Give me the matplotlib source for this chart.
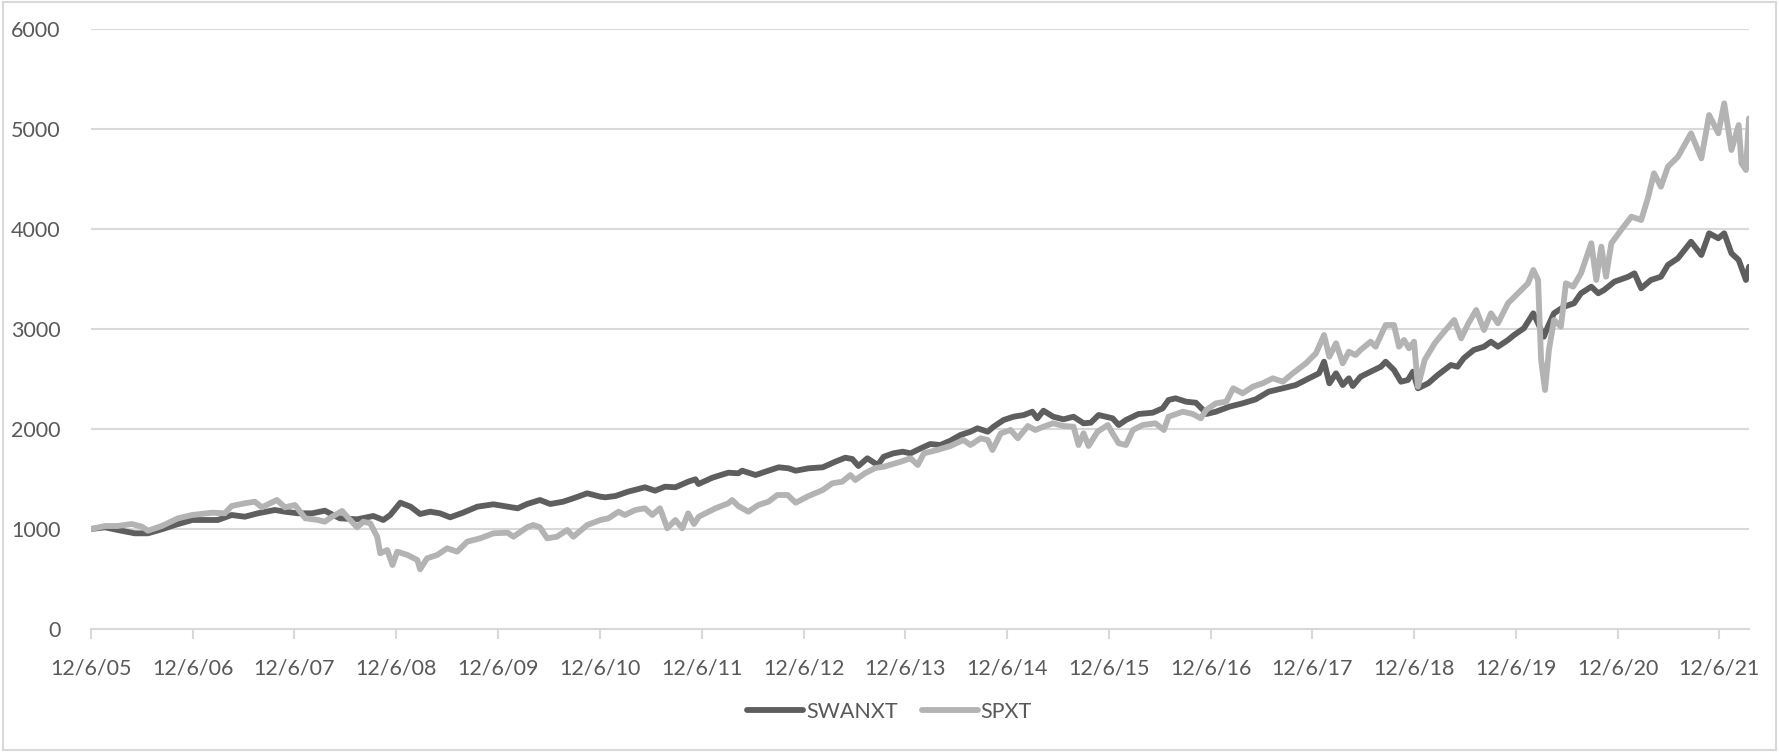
import matplotlib
matplotlib.use("Agg")
import matplotlib.pyplot as plt
import matplotlib.dates as mdates
from matplotlib.ticker import FuncFormatter, MultipleLocator
import pandas as pd

# values (growth of 1000)
swanxt_dates = [
    "2005-12-06", "2006-01-26", "2006-03-12", "2006-05-12", "2006-06-28", "2006-08-17",
    "2006-10-03", "2006-12-04", "2007-01-20", "2007-03-06", "2007-04-25", "2007-06-11",
    "2007-07-28", "2007-09-27", "2007-11-02", "2007-12-19", "2008-02-08", "2008-03-24",
    "2008-05-17", "2008-07-18", "2008-09-14", "2008-10-20", "2008-11-14", "2008-12-20",
    "2009-01-26", "2009-03-01", "2009-04-06", "2009-05-11", "2009-06-17", "2009-08-02",
    "2009-09-22", "2009-11-19", "2010-01-09", "2010-02-14", "2010-03-20", "2010-05-05",
    "2010-06-11", "2010-07-27", "2010-09-02", "2010-10-22", "2010-12-08", "2010-12-26",
    "2011-01-31", "2011-03-17", "2011-05-17", "2011-06-22", "2011-07-28", "2011-09-03",
    "2011-10-19", "2011-11-14", "2011-11-25", "2012-01-14", "2012-03-11", "2012-04-16",
    "2012-04-30", "2012-06-17", "2012-07-22", "2012-09-08", "2012-10-13", "2012-11-08",
    "2012-12-24", "2013-02-13", "2013-03-30", "2013-05-05", "2013-05-30", "2013-06-21",
    "2013-07-23", "2013-08-29", "2013-09-20", "2013-10-25", "2013-11-27", "2013-12-25",
    "2014-01-31", "2014-03-06", "2014-04-11", "2014-05-17", "2014-06-22", "2014-07-28",
    "2014-08-22", "2014-09-28", "2014-10-19", "2014-11-24", "2014-12-30", "2015-02-05",
    "2015-03-07", "2015-03-25", "2015-04-16", "2015-05-21", "2015-06-27", "2015-08-02",
    "2015-09-07", "2015-10-03", "2015-10-31", "2015-11-26", "2015-12-20", "2016-01-11",
    "2016-02-06", "2016-03-22", "2016-05-12", "2016-06-17", "2016-07-08", "2016-08-02",
    "2016-09-09", "2016-10-14", "2016-11-09", "2016-11-20", "2016-12-25", "2017-02-11",
    "2017-03-31", "2017-05-17", "2017-07-02", "2017-08-22", "2017-10-08", "2017-11-24",
    "2017-12-30", "2018-01-17", "2018-02-05", "2018-03-01", "2018-03-25", "2018-04-16",
    "2018-04-30", "2018-05-28", "2018-07-03", "2018-08-09", "2018-08-26", "2018-09-25",
    "2018-10-20", "2018-11-14", "2018-12-02", "2018-12-20", "2019-01-26", "2019-03-01",
    "2019-04-17", "2019-05-11", "2019-06-02", "2019-07-08", "2019-08-14", "2019-09-08",
    "2019-10-03", "2019-11-08", "2019-11-30", "2020-01-04", "2020-02-07", "2020-02-24",
    "2020-03-16", "2020-03-30", "2020-04-21", "2020-05-27", "2020-07-02", "2020-07-27",
    "2020-09-02", "2020-09-27", "2020-10-18", "2020-11-24", "2021-01-13", "2021-02-04",
    "2021-02-28", "2021-04-04", "2021-05-10", "2021-06-04", "2021-07-10", "2021-08-26",
    "2021-10-02", "2021-10-30", "2021-12-02", "2021-12-23", "2022-01-18", "2022-02-13",
    "2022-03-11", "2022-03-22",
]
swanxt_values = [
    1000, 1017, 990, 957, 957, 997,
    1040, 1090, 1090, 1090, 1140, 1123,
    1157, 1190, 1173, 1157, 1157, 1183,
    1107, 1097, 1130, 1090, 1140, 1263,
    1223, 1150, 1173, 1157, 1117, 1163,
    1223, 1247, 1223, 1207, 1250, 1290,
    1250, 1273, 1307, 1357, 1323, 1317,
    1330, 1373, 1417, 1383, 1423, 1417,
    1473, 1497, 1450, 1513, 1563, 1557,
    1583, 1540, 1573, 1617, 1607, 1583,
    1607, 1617, 1673, 1713, 1700, 1630,
    1707, 1640, 1723, 1757, 1773, 1757,
    1807, 1850, 1840, 1883, 1940, 1973,
    2007, 1973, 2023, 2090, 2123, 2140,
    2173, 2107, 2183, 2123, 2097, 2123,
    2057, 2063, 2140, 2123, 2107, 2040,
    2090, 2150, 2163, 2207, 2290, 2307,
    2273, 2263, 2190, 2150, 2173, 2223,
    2257, 2297, 2373, 2407, 2440, 2507,
    2557, 2673, 2457, 2557, 2440, 2507,
    2430, 2523, 2573, 2623, 2673, 2590,
    2473, 2490, 2573, 2407, 2457, 2540,
    2640, 2623, 2707, 2790, 2823, 2873,
    2823, 2890, 2940, 3007, 3157, 3057,
    2923, 3023, 3157, 3223, 3257, 3357,
    3423, 3357, 3390, 3473, 3523, 3557,
    3407, 3490, 3523, 3640, 3707, 3873,
    3740, 3957, 3907, 3957, 3757, 3690,
    3490, 3623,
]

spxt_dates = [
    "2005-12-06", "2006-01-26", "2006-03-12", "2006-05-01", "2006-06-07", "2006-06-28",
    "2006-08-17", "2006-10-14", "2006-12-04", "2007-02-14", "2007-03-31", "2007-04-25",
    "2007-06-11", "2007-07-17", "2007-08-11", "2007-10-04", "2007-11-02", "2007-12-08",
    "2008-01-14", "2008-02-29", "2008-03-24", "2008-04-19", "2008-05-25", "2008-06-23",
    "2008-07-18", "2008-08-09", "2008-09-03", "2008-09-28", "2008-10-09", "2008-11-03",
    "2008-11-22", "2008-12-09", "2009-01-15", "2009-02-19", "2009-03-01", "2009-03-26",
    "2009-05-01", "2009-06-06", "2009-07-12", "2009-08-17", "2009-10-03", "2009-11-19",
    "2010-01-09", "2010-01-30", "2010-03-20", "2010-04-11", "2010-05-05", "2010-05-31",
    "2010-07-05", "2010-08-11", "2010-09-02", "2010-10-22", "2010-12-08", "2011-01-06",
    "2011-02-11", "2011-03-06", "2011-04-12", "2011-05-17", "2011-06-12", "2011-07-10",
    "2011-08-05", "2011-09-03", "2011-09-28", "2011-10-19", "2011-11-09", "2011-11-26",
    "2012-01-25", "2012-03-11", "2012-03-25", "2012-04-16", "2012-05-22", "2012-06-27",
    "2012-08-02", "2012-09-03", "2012-10-10", "2012-11-08", "2012-12-24", "2013-02-13",
    "2013-03-19", "2013-04-24", "2013-05-23", "2013-06-10", "2013-07-16", "2013-08-21",
    "2013-09-20", "2013-11-20", "2013-12-25", "2014-01-20", "2014-02-11", "2014-03-31",
    "2014-05-17", "2014-07-03", "2014-07-28", "2014-09-03", "2014-09-28", "2014-10-15",
    "2014-11-14", "2014-12-19", "2015-01-14", "2015-02-19", "2015-03-18", "2015-04-16",
    "2015-05-21", "2015-06-27", "2015-08-02", "2015-08-20", "2015-09-07", "2015-09-25",
    "2015-10-27", "2015-12-03", "2015-12-20", "2016-01-11", "2016-02-06", "2016-03-02",
    "2016-04-06", "2016-05-22", "2016-06-21", "2016-07-08", "2016-08-28", "2016-10-03",
    "2016-11-01", "2016-11-20", "2016-12-25", "2017-01-31", "2017-02-25", "2017-03-31",
    "2017-05-06", "2017-06-11", "2017-07-17", "2017-08-22", "2017-09-27", "2017-11-13",
    "2017-12-19", "2018-01-17", "2018-02-05", "2018-03-01", "2018-03-25", "2018-04-16",
    "2018-05-10", "2018-05-28", "2018-07-03", "2018-07-21", "2018-08-26", "2018-09-25",
    "2018-10-13", "2018-10-31", "2018-11-18", "2018-12-06", "2018-12-20", "2019-01-13",
    "2019-02-18", "2019-03-24", "2019-04-29", "2019-05-24", "2019-06-19", "2019-07-17",
    "2019-08-14", "2019-09-08", "2019-10-03", "2019-11-08", "2019-12-14", "2020-01-19",
    "2020-02-07", "2020-02-24", "2020-03-06", "2020-03-20", "2020-04-03", "2020-04-21",
    "2020-05-16", "2020-06-03", "2020-06-29", "2020-07-27", "2020-09-02", "2020-09-20",
    "2020-10-08", "2020-10-25", "2020-11-13", "2020-12-18", "2021-01-24", "2021-02-28",
    "2021-03-24", "2021-04-15", "2021-05-10", "2021-06-04", "2021-07-10", "2021-08-26",
    "2021-10-02", "2021-10-30", "2021-12-02", "2021-12-23", "2022-01-18", "2022-02-13",
    "2022-02-23", "2022-03-11", "2022-03-22",
]
spxt_values = [
    1000, 1030, 1030, 1050, 1023, 983,
    1030, 1107, 1140, 1163, 1157, 1230,
    1257, 1273, 1217, 1290, 1217, 1240,
    1107, 1090, 1073, 1123, 1180, 1090,
    1017, 1073, 1057, 923, 757, 790,
    640, 773, 740, 690, 597, 707,
    740, 807, 773, 873, 907, 957,
    963, 923, 1017, 1040, 1017, 907,
    923, 990, 923, 1040, 1090, 1107,
    1173, 1140, 1190, 1207, 1140, 1207,
    1007, 1090, 1007, 1157, 1050, 1123,
    1207, 1257, 1290, 1230, 1173, 1240,
    1273, 1340, 1340, 1263, 1330, 1390,
    1457, 1473, 1540, 1490, 1560, 1610,
    1623, 1673, 1707, 1640, 1757, 1790,
    1830, 1890, 1840, 1907, 1890, 1790,
    1957, 1990, 1907, 2030, 1990, 2023,
    2057, 2030, 2023, 1840, 1957, 1830,
    1973, 2040, 1957, 1857, 1840, 1990,
    2040, 2057, 1990, 2123, 2173, 2150,
    2107, 2190, 2257, 2273, 2407, 2357,
    2423, 2457, 2507, 2473, 2557, 2657,
    2757, 2940, 2723, 2857, 2657, 2773,
    2740, 2790, 2873, 2823, 3040, 3040,
    2823, 2890, 2807, 2873, 2423, 2690,
    2857, 2973, 3090, 2907, 3057, 3190,
    2990, 3157, 3057, 3257, 3357, 3457,
    3590, 3490, 2690, 2390, 2790, 3090,
    3023, 3457, 3423, 3557, 3857, 3490,
    3823, 3523, 3857, 3990, 4123, 4090,
    4307, 4557, 4423, 4623, 4723, 4957,
    4707, 5140, 4957, 5257, 4790, 5040,
    4657, 4590, 5107,
]

series_names = ["SWANXT", "SPXT"]
tick_years = list(range(2005, 2022))

text_color = "#595959"
grid_color = "#D9D9D9"

plt.rcParams["font.family"] = ["Lato", "DejaVu Sans"]

fig = plt.figure(figsize=(17.79, 7.52), dpi=100)
ax = fig.add_axes([91 / 1779, 123 / 752, 1658 / 1779, 600 / 752])

swan = pd.Series(swanxt_values, index=pd.to_datetime(swanxt_dates))
spx = pd.Series(spxt_values, index=pd.to_datetime(spxt_dates))

ax.plot(swan.index, swan.values, color="#5E5E5E", lw=4.2, label=series_names[0],
        solid_joinstyle="round", solid_capstyle="round", zorder=3)
ax.plot(spx.index, spx.values, color="#B3B3B3", lw=4.2, label=series_names[1],
        solid_joinstyle="round", solid_capstyle="round", zorder=4)

ax.set_ylim(0, 6000)
ax.yaxis.set_major_locator(MultipleLocator(1000))
ax.set_xlim(swan.index[0], swan.index[-1])

ticks = pd.to_datetime([f"{y}-12-06" for y in tick_years])
ax.set_xticks(ticks)
ax.xaxis.set_major_formatter(FuncFormatter(
    lambda v, p: (lambda d: f"{d.month}/{d.day}/{d:%y}")(mdates.num2date(v))))

ax.grid(axis="y", color=grid_color, lw=1.5, zorder=0)
for s in ["top", "right", "left"]:
    ax.spines[s].set_visible(False)
ax.spines["bottom"].set_color(grid_color)
ax.spines["bottom"].set_linewidth(1.5)

ax.tick_params(axis="y", length=0, pad=22, labelsize=15.5, labelcolor=text_color)
ax.tick_params(axis="x", length=7, width=1.5, color=grid_color, pad=14,
               labelsize=15.5, labelcolor=text_color)

fig.legend(loc="center", bbox_to_anchor=(0.5, 1 - 712 / 752), ncol=2, frameon=False,
           fontsize=15.5, labelcolor=text_color, handlelength=2.6, handletextpad=0.15,
           columnspacing=1.1)

# chart area border
fig.patches.append(plt.Rectangle((0.0015, 0.002), 0.997, 0.996, transform=fig.transFigure,
                                 fill=False, edgecolor=grid_color, lw=1.5))

fig.savefig("out.png", dpi=100)
